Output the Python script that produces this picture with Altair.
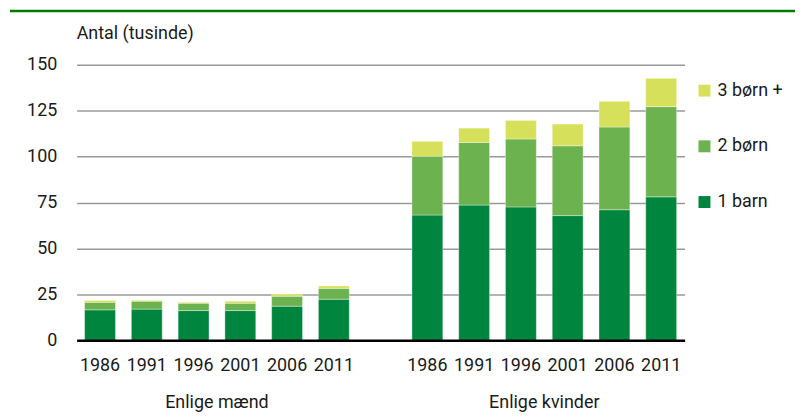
import altair as alt
import pandas as pd

years = ["1986", "1991", "1996", "2001", "2006", "2011"]
groups = ["Enlige mænd", "Enlige kvinder"]
series = ["1 barn", "2 børn", "3 børn +"]
legend_order = ["3 børn +", "2 børn", "1 barn"]
colors = ["#d6e05a", "#6cb24f", "#00853f"]

men_1 = [16.6, 17.0, 16.2, 16.2, 18.6, 22.4]
men_2 = [4.1, 4.3, 4.0, 4.0, 5.4, 5.9]
men_3 = [1.0, 0.5, 0.5, 1.1, 1.1, 1.3]
women_1 = [68.2, 73.6, 72.6, 67.9, 71.1, 78.1]
women_2 = [32.0, 34.1, 37.0, 38.0, 45.0, 49.1]
women_3 = [8.1, 7.8, 10.1, 11.8, 14.0, 15.4]

y_ticks = [0, 25, 50, 75, 100, 125, 150]

FONT = "Roboto"
FS = 18

men_keys = ["M" + y for y in years]
women_keys = ["K" + y for y in years]
x_domain = men_keys + ["_"] + women_keys

rows = []
for keys, vals in [(men_keys, [men_1, men_2, men_3]), (women_keys, [women_1, women_2, women_3])]:
    for i, k in enumerate(keys):
        for s_i, s in enumerate(series):
            rows.append({"key": k, "serie": s, "ord": s_i, "value": vals[s_i][i]})
df = pd.DataFrame(rows)

x_scale = alt.Scale(domain=x_domain, paddingInner=0.34, paddingOuter=0.17)

bars = alt.Chart(df).mark_bar(stroke="#ffffff", strokeOpacity=0.35, strokeWidth=1).encode(
    x=alt.X("key:N", scale=x_scale, sort=x_domain,
            axis=alt.Axis(title=None, labelExpr="datum.value == '_' ? '' : slice(datum.value, 1)",
                          labelAngle=0, ticks=False, domainColor="#000000", domainWidth=2.5,
                          labelFont=FONT, labelFontSize=FS, labelColor="#1a1a1a",
                          labelPadding=16, zindex=1)),
    y=alt.Y("value:Q", stack="zero", scale=alt.Scale(domain=[0, 150], nice=False),
            axis=alt.Axis(title=None, values=y_ticks, ticks=False, domain=False,
                          gridColor="#9a9a9a", gridWidth=1.6, labelFont=FONT, labelFontSize=FS,
                          labelColor="#1a1a1a", labelPadding=20)),
    color=alt.Color("serie:N", scale=alt.Scale(domain=legend_order, range=colors),
                    legend=alt.Legend(title=None, orient="none", legendX=622, legendY=17,
                                      symbolType="square", symbolSize=144, symbolStrokeWidth=0,
                                      labelFont=FONT, labelFontSize=FS, labelColor="#1a1a1a",
                                      labelOffset=4, rowPadding=38)),
    order=alt.Order("ord:Q", sort="ascending"),
)

glabels = pd.DataFrame({"key": ["M2001", "K2001"], "label": groups})
group_text = alt.Chart(glabels).mark_text(font=FONT, fontSize=FS, color="#1a1a1a",
                                          baseline="middle", dx=-23.5).encode(
    x=alt.X("key:N", scale=x_scale, sort=x_domain),
    y=alt.value(340),
    text="label:N",
)

one = pd.DataFrame({"t": ["Antal (tusinde)"]})
ytitle = alt.Chart(one).mark_text(font=FONT, fontSize=FS, color="#1a1a1a", align="left",
                                  baseline="middle").encode(
    x=alt.value(0), y=alt.value(-31), text="t:N")

topline = alt.Chart(one).mark_rule(color="#007a00", strokeWidth=2.5).encode(
    x=alt.value(-67), x2=alt.value(722), y=alt.value(-54))

chart = alt.layer(bars, group_text, ytitle, topline).properties(
    width=611, height=277, padding=0
).configure_view(stroke=None)

chart.save("out.html", embed_options={"renderer": "svg", "actions": False})
